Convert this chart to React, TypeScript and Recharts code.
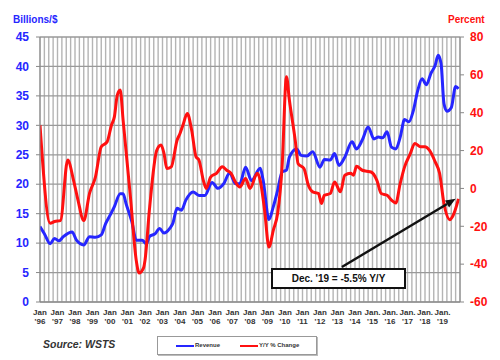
import React from "react";
import {
  ComposedChart,
  Line,
  XAxis,
  YAxis,
  CartesianGrid,
  ReferenceLine,
} from "recharts";

// month index counted from Jan '96
const revenueMonths = [
  0, 3, 7, 10, 13, 16, 22, 25, 30, 34, 38, 42, 45, 48, 51, 55, 57, 59, 63, 66,
  70, 73, 75, 79, 82, 85, 89, 91, 94, 97, 100, 105, 109, 113, 118, 122, 126,
  130, 134, 137, 141, 145, 151, 153, 157, 160, 163, 166, 169, 171, 176, 179,
  183, 187, 192, 195, 199, 202, 205, 209, 214, 217, 221, 225, 229, 232, 235,
  238, 241, 244, 247, 250, 253, 256, 259, 262, 265, 268, 271, 273, 275, 277,
  279, 282, 285, 287,
];
const revenueValues = [
  12.8, 11.6, 9.9, 10.8, 10.4, 11.1, 11.9, 10.5, 9.7, 11.1, 11.0, 11.4, 13.3,
  14.7, 16.2, 18.4, 18.4, 16.7, 13.6, 10.5, 10.5, 9.9, 11.1, 11.6, 12.5, 11.7,
  12.5, 13.3, 15.9, 15.6, 17.3, 18.7, 18.1, 18.1, 20.3, 19.3, 20.1, 21.9,
  20.1, 20.1, 22.9, 20.6, 22.7, 20.7, 14.0, 16.2, 19.0, 22.1, 22.4, 24.6,
  26.0, 24.9, 24.8, 25.5, 22.9, 24.2, 24.1, 25.2, 23.2, 24.6, 27.2, 26.0,
  27.5, 29.7, 27.7, 28.0, 27.9, 28.9, 26.3, 26.0, 28.0, 31.0, 30.6, 32.5,
  35.9, 37.9, 36.9, 38.8, 40.2, 41.9, 40.5, 33.7, 32.4, 33.0, 36.6, 36.2,
];

const yoyMonths = [
  0, 7, 10, 14, 19, 23, 26, 30, 34, 38, 42, 46, 49, 51, 53, 55, 57, 62, 66,
  68, 71, 72, 75, 80, 83, 85, 87, 90, 94, 96, 98, 101, 104, 107, 109, 112,
  114, 117, 121, 125, 128, 131, 134, 137, 141, 144, 149, 151, 154, 157, 160,
  163, 166, 169, 171, 175, 177, 181, 184, 187, 191, 193, 195, 199, 202, 206,
  209, 213, 215, 217, 221, 224, 227, 231, 234, 238, 241, 244, 247, 250, 254,
  257, 261, 264, 267, 271, 274, 277, 281, 283, 287,
];
const yoyValues = [
  33.4, -18.4, -17.5, -17, 15, 4.3, -6, -17, -2.5, 6, 22, 24.6, 33.4, 37.8,
  49.3, 52, 36, -4.5, -38, -44.7, -42, -38, -11.5, 20, 22.9, 18.5, 10.5, 11.4,
  25.5, 29, 33.4, 39.6, 30.8, 16.7, 15, 4.3, 0, 6, 8, 11.4, 9.6, 8, 3.4, 0.8,
  5.2, 0, 8, 4.3, -11.5, -31, -22, -13, 11.4, 59, 46.7, 25.5, 13, 10.5, 1.7,
  -1.8, -2.7, -8, -3.6, -2.7, 3.4, -1.8, 7, 8, 7, 11.7, 9.6, 9.1, 8.7, 4.3,
  -2.7, -3.6, -6.2, -7.7, 2.6, 11.4, 18.5, 23.8, 22, 22, 20.2, 14, 8, -8,
  -16.5, -14.7, -5.5,
];

const yearLabels = [
  "'96", "'97", "'98", "'99", "'00", "'01", "'02", "'03", "'04", "'05", "'06",
  "'07", "'08", "'09", "'10", "'11", "'12", "'13", "'14", "'15", "'16", "'17",
  "'18", "'19",
];
const monthLabels = [
  "Jan", "Jan", "Jan", "Jan", "Jan", "Jan", "Jan", "Jan", "Jan", "Jan", "Jan",
  "Jan", "Jan", "Jan", "Jan", "Jan", "Jan", "Jan", "Jan", "Jan.", "Jan.",
  "Jan.", "Jan.", "Jan.",
];
const leftTicks = [0, 5, 10, 15, 20, 25, 30, 35, 40, 45];
const rightTicks = [-60, -40, -20, 0, 20, 40, 60, 80];
const quarterTicks = Array.from({ length: 97 }, (_, i) => i * 3);

const revenueData = revenueMonths.map((m, i) => ({ m, v: revenueValues[i] }));
const yoyData = yoyMonths.map((m, i) => ({ m, v: yoyValues[i] }));

const FONT = "'Liberation Sans', Arial, sans-serif";
const BLUE = "#2626ff";
const RED = "#ff1010";

const YearTick = (props: any) => {
  const { x, y, payload } = props;
  if (payload.value % 12 !== 0) return <g />;
  const i = payload.value / 12;
  if (i >= yearLabels.length) return <g />;
  return (
    <text
      x={x}
      y={y}
      textAnchor="middle"
      fontFamily={FONT}
      fontSize={8}
      fontWeight="bold"
      fill="#333"
    >
      <tspan x={x} dy={5}>
        {monthLabels[i]}
      </tspan>
      <tspan x={x} dy={9}>
        {yearLabels[i]}
      </tspan>
    </text>
  );
};

const Arrow = (props: any) => {
  const { x1, y1, x2, y2 } = props;
  const ang = Math.atan2(y2 - y1, x2 - x1);
  const len = 10;
  const w = 4;
  const bx = x2 - len * Math.cos(ang);
  const by = y2 - len * Math.sin(ang);
  const px = -Math.sin(ang) * w;
  const py = Math.cos(ang) * w;
  return (
    <g>
      <line x1={x1} y1={y1} x2={bx} y2={by} stroke="#111" strokeWidth={2.5} />
      <polygon
        points={`${x2},${y2} ${bx + px},${by + py} ${bx - px},${by - py}`}
        fill="#111"
      />
    </g>
  );
};

const App: React.FC = () => {
  return (
    <div
      style={{
        position: "absolute",
        left: 0,
        top: 0,
        width: 500,
        height: 360,
        background: "white",
        fontFamily: FONT,
      }}
    >
      <ComposedChart
        width={500}
        height={360}
        margin={{ top: 37, right: 0, left: 12, bottom: 28 }}
      >
        {/* quarterly vertical lines are lighter than the horizontal ones */}
        <CartesianGrid
          xAxisId="x"
          yAxisId="left"
          horizontal={false}
          stroke="#b4b4b4"
          strokeWidth={1.4}
        />
        <CartesianGrid
          xAxisId="x"
          yAxisId="left"
          vertical={false}
          stroke="#999"
          strokeWidth={1.3}
        />
        <XAxis
          xAxisId="x"
          dataKey="m"
          type="number"
          domain={[0, 288]}
          ticks={quarterTicks}
          interval={0}
          tick={<YearTick />}
          tickLine={false}
          axisLine={{ stroke: "#888" }}
          height={30}
          allowDataOverflow
        />
        <YAxis
          yAxisId="left"
          domain={[0, 45]}
          ticks={leftTicks}
          width={28}
          tickSize={4}
          tickMargin={7}
          axisLine={{ stroke: "#888" }}
          tickLine={{ stroke: "#888" }}
          tick={{
            fill: BLUE,
            fontSize: 12,
            fontWeight: "bold",
            fontFamily: FONT,
          }}
        />
        <YAxis
          yAxisId="right"
          orientation="right"
          domain={[-60, 80]}
          ticks={rightTicks}
          width={40}
          tickSize={4}
          tickMargin={6}
          axisLine={{ stroke: "#888" }}
          tickLine={{ stroke: "#888" }}
          tick={{
            fill: RED,
            fontSize: 12,
            fontWeight: "bold",
            fontFamily: FONT,
          }}
        />
        <Line
          xAxisId="x"
          yAxisId="left"
          data={revenueData}
          dataKey="v"
          name="Revenue"
          type="monotone"
          stroke={BLUE}
          strokeWidth={3}
          dot={false}
          isAnimationActive={false}
        />
        <Line
          xAxisId="x"
          yAxisId="right"
          data={yoyData}
          dataKey="v"
          name="Y/Y % Change"
          type="monotone"
          stroke={RED}
          strokeWidth={3}
          dot={false}
          isAnimationActive={false}
        />
        <ReferenceLine
          xAxisId="x"
          yAxisId="right"
          segment={[
            { x: 207, y: -41.5 },
            { x: 285, y: -5.5 },
          ]}
          shape={<Arrow />}
        />
      </ComposedChart>

      <div
        style={{
          position: "absolute",
          left: 13,
          top: 14,
          fontSize: 10,
          fontWeight: "bold",
          color: BLUE,
        }}
      >
        Billions/$
      </div>
      <div
        style={{
          position: "absolute",
          left: 448,
          top: 14,
          fontSize: 10,
          fontWeight: "bold",
          color: RED,
        }}
      >
        Percent
      </div>
      <div
        style={{
          position: "absolute",
          left: 271,
          top: 268,
          width: 131,
          height: 17,
          border: "2px solid #111",
          background: "white",
          fontSize: 10,
          fontWeight: "bold",
          color: "#111",
          textAlign: "center",
          lineHeight: "17px",
        }}
      >
        Dec. '19 = -5.5% Y/Y
      </div>
      <div
        style={{
          position: "absolute",
          left: 43,
          top: 338,
          fontSize: 10.5,
          fontWeight: "bold",
          fontStyle: "italic",
          color: "#333",
        }}
      >
        Source: WSTS
      </div>
      <div
        style={{
          position: "absolute",
          left: 157,
          top: 336,
          width: 158,
          height: 17,
          border: "1px solid #999",
          boxShadow: "1px 1px 0 #bbb",
          background: "white",
          fontSize: 6,
          fontWeight: "bold",
          color: "#333",
        }}
      >
        <div
          style={{
            position: "absolute",
            left: 18,
            top: 8,
            width: 18,
            height: 2,
            background: BLUE,
          }}
        />
        <div style={{ position: "absolute", left: 37, top: 5 }}>Revenue</div>
        <div
          style={{
            position: "absolute",
            left: 82,
            top: 8,
            width: 18,
            height: 2,
            background: RED,
          }}
        />
        <div style={{ position: "absolute", left: 101, top: 5 }}>
          Y/Y % Change
        </div>
      </div>
    </div>
  );
};

export default App;
